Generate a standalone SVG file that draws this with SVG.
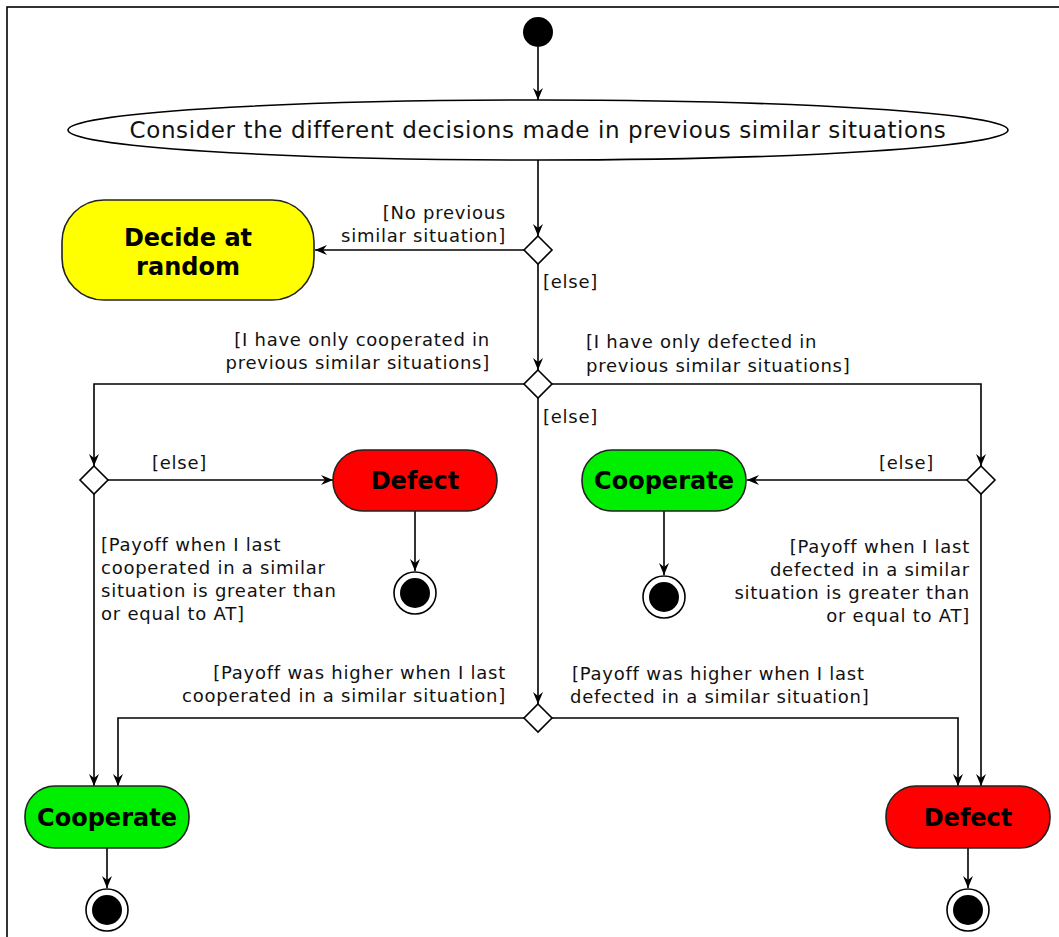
<svg xmlns="http://www.w3.org/2000/svg" width="1059" height="937" viewBox="0 0 1059 937">
<defs>
<marker id="arr" viewBox="0 0 12 10" refX="12" refY="5" markerWidth="12" markerHeight="10" markerUnits="userSpaceOnUse" orient="auto">
<path d="M0,0 L12,5 L0,10 L4,5 Z" fill="#000"/>
</marker>
</defs>
<style>
.ln{fill:none;stroke:#000;stroke-width:1.6}
.ca{marker-end:url(#arr)}
.lbl{font-family:"DejaVu Sans",Verdana,sans-serif;font-size:18px;letter-spacing:0.75px;fill:#111}
.nd{font-family:"DejaVu Sans",Verdana,sans-serif;font-size:24px;font-weight:bold;fill:#000;text-anchor:middle}
.dm{fill:#fff;stroke:#000;stroke-width:1.6}
.act{stroke:#222;stroke-width:1.6}
.fin{fill:#fff;stroke:#000;stroke-width:1.6}
</style>
<rect x="0" y="0" width="1059" height="937" fill="#fff"/>
<rect x="7" y="7" width="1100" height="1000" fill="none" stroke="#000" stroke-width="1.6"/>

<g id="connectors">
<path class="ln ca" d="M538,47 V100"/>
<path class="ln ca" d="M538,160 V236"/>
<path class="ln ca" d="M524,250 H315"/>
<path class="ln ca" d="M538,264 V370"/>
<path class="ln ca" d="M524,384 H94 V466"/>
<path class="ln ca" d="M552,384 H981 V466"/>
<path class="ln ca" d="M538,398 V704"/>
<path class="ln ca" d="M108,480 H333"/>
<path class="ln ca" d="M967,480 H747"/>
<path class="ln ca" d="M415,511 V571"/>
<path class="ln ca" d="M664,511 V575"/>
<path class="ln ca" d="M94,494 V786"/>
<path class="ln ca" d="M981,494 V786"/>
<path class="ln ca" d="M524,718 H118 V786"/>
<path class="ln ca" d="M552,718 H958 V786"/>
<path class="ln ca" d="M107,848 V888"/>
<path class="ln ca" d="M968,848 V888"/>
</g>

<g id="labels">
<text class="lbl" x="506" y="219" text-anchor="end">[No previous</text>
<text class="lbl" x="506" y="242" text-anchor="end">similar situation]</text>
<text class="lbl" x="543" y="288">[else]</text>
<text class="lbl" x="490" y="346" text-anchor="end">[I have only cooperated in</text>
<text class="lbl" x="490" y="369" text-anchor="end">previous similar situations]</text>
<text class="lbl" x="586" y="348">[I have only defected in</text>
<text class="lbl" x="586" y="372">previous similar situations]</text>
<text class="lbl" x="543" y="423">[else]</text>
<text class="lbl" x="152" y="469">[else]</text>
<text class="lbl" x="934" y="469" text-anchor="end">[else]</text>
<text class="lbl" x="101" y="551">[Payoff when I last</text>
<text class="lbl" x="101" y="574">cooperated in a similar</text>
<text class="lbl" x="101" y="597">situation is greater than</text>
<text class="lbl" x="101" y="620">or equal to AT]</text>
<text class="lbl" x="970" y="553" text-anchor="end">[Payoff when I last</text>
<text class="lbl" x="970" y="576" text-anchor="end">defected in a similar</text>
<text class="lbl" x="970" y="599" text-anchor="end">situation is greater than</text>
<text class="lbl" x="970" y="622" text-anchor="end">or equal to AT]</text>
<text class="lbl" x="506" y="679" text-anchor="end">[Payoff was higher when I last</text>
<text class="lbl" x="506" y="702" text-anchor="end">cooperated in a similar situation]</text>
<text class="lbl" x="572" y="680">[Payoff was higher when I last</text>
<text class="lbl" x="570" y="703">defected in a similar situation]</text>
</g>

<g id="start"><circle cx="538" cy="32" r="15" fill="#000"/></g>

<g id="consider">
<ellipse cx="538" cy="130" rx="470" ry="30" fill="#fff" stroke="#000" stroke-width="1.6"/>
<text x="538" y="138" text-anchor="middle" font-family="DejaVu Sans, Verdana, sans-serif" font-size="23" letter-spacing="0.6" fill="#111">Consider the different decisions made in previous similar situations</text>
</g>

<g id="d1"><path class="dm" d="M538,236 L552,250 L538,264 L524,250 Z"/></g>

<g id="random">
<rect class="act" x="62" y="200" width="252" height="100" rx="42" fill="#ffff00"/>
<text class="nd" x="188" y="246">Decide at</text>
<text class="nd" x="188" y="275">random</text>
</g>

<g id="d2"><path class="dm" d="M538,370 L552,384 L538,398 L524,384 Z"/></g>
<g id="d3"><path class="dm" d="M94,466 L108,480 L94,494 L80,480 Z"/></g>
<g id="d4"><path class="dm" d="M981,466 L995,480 L981,494 L967,480 Z"/></g>
<g id="d5"><path class="dm" d="M538,704 L552,718 L538,732 L524,718 Z"/></g>

<g id="defect1">
<rect class="act" x="333" y="450" width="164" height="61" rx="30" fill="#ff0000"/>
<text class="nd" x="415" y="489">Defect</text>
</g>
<g id="coop1">
<rect class="act" x="582" y="450" width="164" height="61" rx="30" fill="#00ee00"/>
<text class="nd" x="664" y="489">Cooperate</text>
</g>
<g id="coop2">
<rect class="act" x="25" y="786" width="164" height="62" rx="30" fill="#00ee00"/>
<text class="nd" x="107" y="826">Cooperate</text>
</g>
<g id="defect2">
<rect class="act" x="886" y="786" width="164" height="62" rx="30" fill="#ff0000"/>
<text class="nd" x="968" y="826">Defect</text>
</g>

<g id="end1"><circle class="fin" cx="415" cy="593" r="21"/><circle cx="415" cy="593" r="15" fill="#000"/></g>
<g id="end2"><circle class="fin" cx="664" cy="597" r="21"/><circle cx="664" cy="597" r="15" fill="#000"/></g>
<g id="end3"><circle class="fin" cx="107" cy="910" r="21"/><circle cx="107" cy="910" r="15" fill="#000"/></g>
<g id="end4"><circle class="fin" cx="968" cy="910" r="21"/><circle cx="968" cy="910" r="15" fill="#000"/></g>
</svg>
